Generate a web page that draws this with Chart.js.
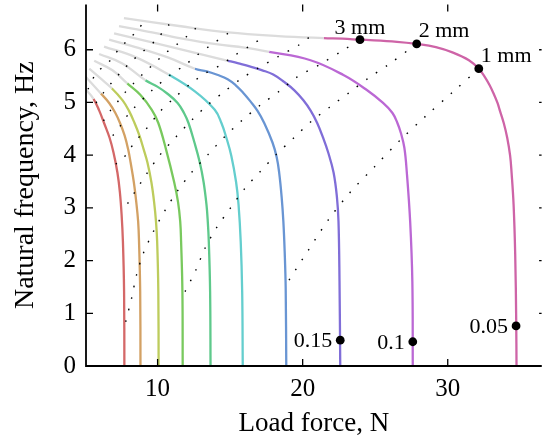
<!DOCTYPE html>
<html>
<head>
<meta charset="utf-8">
<script src="https://cdn.jsdelivr.net/npm/chart.js@4.4.1/dist/chart.umd.min.js"></script>
<style>
  html, body { margin: 0; padding: 0; background: #fff; }
</style>
</head>
<body>
<canvas id="myChart" width="546" height="446"></canvas>
<script>
// axis ticks
var xTicks = [10, 20, 30];
var yTicks = [0, 1, 2, 3, 4, 5, 6];

// curves, from the bottom (f = 0) up to their top-left end; load force in N, frequency in Hz
var F_050 = [7.71, 7.69, 7.61, 7.52, 7.40, 7.23, 6.96, 6.69, 6.31, 5.97, 5.58, 5.0];
var Hz_050 = [0, 1.42, 2.36, 2.87, 3.30, 3.67, 4.05, 4.33, 4.61, 4.85, 5.07, 5.26];
var F_045 = [8.82, 8.80, 8.72, 8.66, 8.53, 8.36, 8.14, 7.97, 7.73, 7.41, 7.09, 6.66, 6.09, 5.0];
var Hz_045 = [0, 1.42, 2.36, 2.74, 3.11, 3.49, 3.86, 4.11, 4.37, 4.61, 4.80, 4.99, 5.17, 5.50];
var F_040 = [10.07, 10.05, 9.97, 9.89, 9.76, 9.57, 9.30, 9.04, 8.75, 8.41, 8.03, 7.59, 6.84, 6.09, 5.29];
var Hz_040 = [0, 1.42, 2.36, 2.74, 3.11, 3.49, 3.86, 4.11, 4.37, 4.61, 4.84, 5.04, 5.27, 5.45, 5.64];
var F_035 = [11.73, 11.71, 11.62, 11.56, 11.41, 11.14, 10.59, 10.05, 9.60, 8.82, 7.91, 6.89, 5.63];
var Hz_035 = [0, 1.42, 2.36, 2.74, 3.11, 3.49, 4.10, 4.61, 4.86, 5.14, 5.36, 5.61, 5.79];
var F_030 = [13.65, 13.62, 13.53, 13.46, 13.37, 13.17, 12.91, 12.54, 12.13, 11.82, 11.38, 10.66, 9.98, 9.16, 7.57, 5.97];
var Hz_030 = [0, 1.42, 2.36, 2.74, 3.06, 3.49, 3.86, 4.24, 4.61, 4.80, 4.99, 5.17, 5.30, 5.42, 5.74, 5.92];
var F_025 = [15.87, 15.83, 15.73, 15.58, 15.41, 15.08, 14.74, 14.40, 13.94, 12.57, 10.75, 8.48, 6.31];
var Hz_025 = [0, 1.42, 2.36, 3.06, 3.49, 3.99, 4.33, 4.61, 4.86, 5.21, 5.53, 5.86, 6.06];
var F_020 = [18.87, 18.83, 18.76, 18.67, 18.55, 18.38, 18.21, 17.92, 17.35, 16.89, 16.40, 15.88, 15.37, 14.83, 14.16, 13.39, 12.57, 10.75, 8.48, 6.66];
var Hz_020 = [0, 1.48, 2.17, 2.74, 3.21, 3.67, 3.96, 4.24, 4.61, 4.84, 5.02, 5.19, 5.33, 5.44, 5.52, 5.59, 5.64, 5.85, 6.05, 6.19];
var F_015 = [22.59, 22.54, 22.47, 22.36, 22.13, 21.76, 21.41, 21.00, 20.56, 20.05, 19.43, 18.72, 17.97, 17.22, 16.40, 15.58, 14.85, 11.89, 9.62, 7.00];
var Hz_015 = [0, 1.61, 2.74, 3.21, 3.67, 4.05, 4.33, 4.61, 4.84, 5.04, 5.23, 5.39, 5.53, 5.61, 5.68, 5.74, 5.79, 5.99, 6.14, 6.31];
var F_010 = [27.59, 27.56, 27.41, 27.18, 27.01, 26.77, 26.53, 26.19, 25.54, 24.40, 22.81, 20.54, 17.69, 15.99, 14.16, 11.89, 9.62, 7.34];
var Hz_010 = [0, 1.61, 2.74, 3.67, 4.14, 4.42, 4.61, 4.80, 4.99, 5.24, 5.52, 5.80, 5.96, 6.04, 6.10, 6.20, 6.33, 6.45];
var F_005 = [34.74, 34.72, 34.65, 34.54, 34.40, 34.30, 34.10, 33.86, 33.60, 33.43, 33.16, 32.88, 32.54, 32.14, 31.46, 30.32, 29.18, 27.86, 26.50, 23.95, 22.74, 21.45, 18.31, 14.89, 11.48, 7.68];
var Hz_005 = [0, 0.86, 2.12, 3.06, 3.67, 3.99, 4.33, 4.61, 4.84, 4.99, 5.17, 5.33, 5.49, 5.64, 5.80, 5.95, 6.05, 6.11, 6.15, 6.19, 6.21, 6.22, 6.26, 6.33, 6.45, 6.60];

var curveF = [F_050, F_045, F_040, F_035, F_030, F_025, F_020, F_015, F_010, F_005];
var curveHz = [Hz_050, Hz_045, Hz_040, Hz_035, Hz_030, Hz_025, Hz_020, Hz_015, Hz_010, Hz_005];
// index of the point after which a curve is drawn grey
var greyFrom = [10, 12, 12, 10, 13, 10, 16, 16, 12, 21];

// dotted lines of equal displacement
var D1F = [19.06, 20.42, 21.79, 23.29, 24.99, 26.70, 28.48, 30.32, 32.14];
var D1Hz = [1.63, 2.21, 2.78, 3.30, 3.79, 4.28, 4.74, 5.19, 5.64];
var D2F = [11.89, 12.64, 13.26, 14.08, 15.03, 15.99, 17.08, 18.17, 19.40, 20.63, 21.86, 23.22, 24.52, 25.82, 27.86];
var D2Hz = [1.41, 1.82, 2.23, 2.63, 3.00, 3.36, 3.69, 4.01, 4.33, 4.65, 4.91, 5.19, 5.46, 5.70, 6.11];
var D3F = [7.80, 8.21, 8.55, 9.02, 9.71, 10.53, 11.42, 12.37, 13.47, 14.62, 15.78, 17.08, 18.38, 19.60, 21.18, 22.61, 23.95];
var D3Hz = [0.84, 1.29, 1.73, 2.14, 2.55, 2.96, 3.34, 3.68, 4.01, 4.35, 4.65, 4.95, 5.21, 5.48, 5.72, 5.96, 6.19];
var D4F = [7.93, 8.34, 9.23, 10.18, 11.28, 12.37, 13.53, 14.62, 15.71, 16.87, 18.31, 19.74, 20.42];
var D4Hz = [3.08, 3.26, 3.64, 4.01, 4.35, 4.67, 4.97, 5.21, 5.44, 5.64, 5.87, 6.09, 6.23];
var D5F = [7.11, 7.57, 8.07, 8.55, 9.11, 10.18, 11.21, 12.30, 13.39, 14.35, 15.30, 16.40, 17.49];
var D5Hz = [3.83, 3.92, 4.11, 4.29, 4.46, 4.83, 5.10, 5.36, 5.57, 5.71, 5.89, 6.08, 6.27];
var D6F = [6.91, 7.39, 7.80, 8.25, 9.62, 10.87, 11.89, 12.78, 13.53, 14.96];
var D6Hz = [4.37, 4.54, 4.71, 4.86, 5.23, 5.52, 5.71, 5.91, 6.06, 6.33];
var D7F = [6.27, 6.70, 7.18, 7.73, 8.34, 9.02, 9.77, 10.52, 11.28, 11.96, 12.64];
var D7Hz = [4.65, 4.83, 4.99, 5.18, 5.36, 5.55, 5.74, 5.93, 6.09, 6.24, 6.41];
var D8F = [5.75, 6.29, 6.91, 7.52, 8.20, 8.96, 9.84, 10.80];
var D8Hz = [4.99, 5.19, 5.40, 5.59, 5.78, 5.96, 6.17, 6.48];
var D9F = [5.20, 5.75, 6.31, 6.89, 7.34, 7.91, 8.48, 9.10];
var D9Hz = [5.25, 5.55, 5.69, 5.84, 6.02, 6.17, 6.33, 6.54];

var dotF = [D1F, D2F, D3F, D4F, D5F, D6F, D7F, D8F, D9F];
var dotHz = [D1Hz, D2Hz, D3Hz, D4Hz, D5Hz, D6Hz, D7Hz, D8Hz, D9Hz];

// marked points
var mmLabel = ['1 mm', '2 mm', '3 mm'];
var mmF = [32.14, 27.86, 23.95];
var mmHz = [5.64, 6.11, 6.19];
var kLabel = ['0.05', '0.1', '0.15'];
var kF = [34.71, 27.59, 22.59];
var kHz = [0.76, 0.46, 0.49];

var curveColors = ['hsl(0,56%,62%)', 'hsl(33,56%,61%)', 'hsl(68,52%,58%)', 'hsl(105,50%,58%)',
  'hsl(145,50%,58%)', 'hsl(180,52%,60%)', 'hsl(215,55%,62%)', 'hsl(250,58%,64%)',
  'hsl(286,56%,62%)', 'hsl(322,52%,60%)'];
var grey = '#dcdcdc';

function pts(xs, ys) {
  return xs.map(function(v, i) { return {x: v, y: ys[i]}; });
}

var datasets = [];

// black dots
datasets.push({
  data: pts(mmF.concat(kF), mmHz.concat(kHz)),
  showLine: false,
  pointRadius: 4.4,
  pointBackgroundColor: '#000',
  pointBorderWidth: 0,
  order: 0
});

dotF.forEach(function(xs, i) {
  datasets.push({
    data: pts(xs, dotHz[i]),
    borderColor: '#000',
    borderWidth: 1.4,
    borderDash: [1.6, 10.2],
    pointRadius: 0,
    tension: 0.3,
    order: 1
  });
});

curveF.forEach(function(xs, i) {
  var g = greyFrom[i];
  var col = curveColors[i];
  datasets.push({
    data: pts(xs, curveHz[i]),
    borderColor: col,
    borderWidth: 2.3,
    pointRadius: 0,
    tension: 0.4,
    order: 2 + i,
    segment: {
      borderColor: function(ctx) { return ctx.p0DataIndex >= g ? grey : col; }
    }
  });
});

var decor = {
  id: 'decor',
  afterDatasetsDraw: function(chart) {
    var ctx = chart.ctx, a = chart.chartArea;
    var x = chart.scales.x, y = chart.scales.y;
    ctx.save();
    ctx.strokeStyle = '#000';
    ctx.lineWidth = 1.3;
    ctx.beginPath();
    xTicks.forEach(function(v) {
      var px = x.getPixelForValue(v);
      ctx.moveTo(px, a.bottom); ctx.lineTo(px, a.bottom - 7);
      ctx.moveTo(px, a.top); ctx.lineTo(px, a.top + 7);
    });
    yTicks.forEach(function(v) {
      var py = y.getPixelForValue(v);
      ctx.moveTo(a.left, py); ctx.lineTo(a.left + 7, py);
      ctx.moveTo(a.right, py); ctx.lineTo(a.right - 2.5, py);
    });
    ctx.stroke();

    // axis lines
    ctx.lineWidth = 1.8;
    ctx.beginPath();
    ctx.moveTo(a.left, a.top);
    ctx.lineTo(a.left, a.bottom);
    ctx.lineTo(a.right, a.bottom);
    ctx.stroke();

    ctx.fillStyle = '#000';
    ctx.font = "22px 'Liberation Serif', serif";
    ctx.textBaseline = 'alphabetic';
    mmLabel.forEach(function(t, i) {
      var px = x.getPixelForValue(mmF[i]), py = y.getPixelForValue(mmHz[i]);
      if (i == 2) {
        ctx.textAlign = 'center';
        ctx.fillText(t, px, py - 6);
      } else {
        ctx.textAlign = 'left';
        ctx.fillText(t, px + 2, py - 7);
      }
    });
    ctx.textAlign = 'right';
    ctx.textBaseline = 'middle';
    kLabel.forEach(function(t, i) {
      var px = x.getPixelForValue(kF[i]), py = y.getPixelForValue(kHz[i]);
      ctx.fillText(t, px - 8, py + 1);
    });
    ctx.restore();
  }
};

Chart.defaults.font.family = "'Liberation Serif', serif";
Chart.defaults.color = '#000';

var ctx = document.getElementById('myChart').getContext('2d');
var myChart = new Chart(ctx, {
  type: 'line',
  data: { datasets: datasets },
  options: {
    responsive: false,
    animation: false,
    layout: { padding: 0 },
    plugins: {
      legend: { display: false },
      tooltip: { enabled: false }
    },
    scales: {
      x: {
        type: 'linear',
        min: 5.065,
        max: 36.47,
        afterBuildTicks: function(s) { s.ticks = xTicks.map(function(v) { return {value: v}; }); },
        // plot box fills the canvas up to the right edge
        afterFit: function(s) { s.height = 80; s.paddingLeft = 0; s.paddingRight = 0; },
        grid: { display: false, drawTicks: false },
        border: { display: false },
        ticks: { font: { size: 25 }, padding: 8, maxRotation: 0 },
        title: { display: true, text: 'Load force, N', font: { size: 27 }, padding: { top: 0, bottom: 6 } }
      },
      y: {
        type: 'linear',
        min: 0,
        max: 6.86,
        afterBuildTicks: function(s) { s.ticks = yTicks.map(function(v) { return {value: v}; }); },
        afterFit: function(s) { s.width = 86; s.paddingTop = 0; s.paddingBottom = 0; },
        grid: { display: false, drawTicks: false },
        border: { display: false },
        ticks: { font: { size: 25 }, padding: 10 },
        title: { display: true, text: 'Natural frequency, Hz', font: { size: 28 }, padding: { top: 9, bottom: 0 } }
      }
    }
  },
  plugins: [decor]
});
</script>
</body>
</html>
